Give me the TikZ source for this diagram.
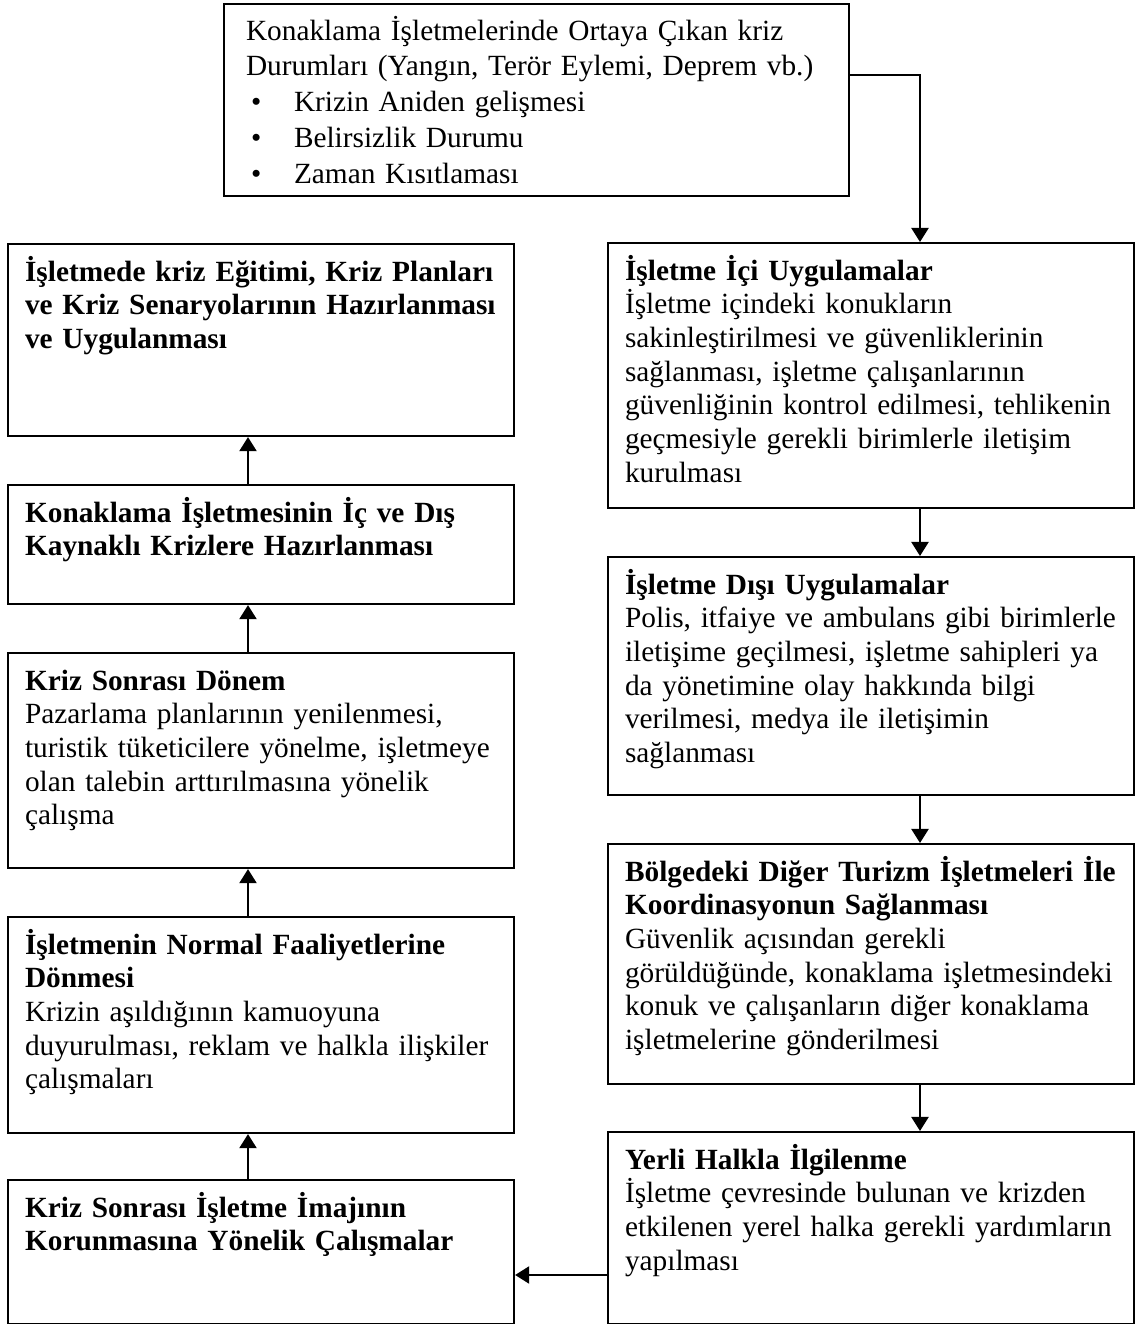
\documentclass[tikz,border=0pt]{standalone}
\RequirePackage{fontspec}
\setmainfont{Liberation Serif}
\RequirePackage{tikz}
\RequirePackage{tkz-euclide}
\usetikzlibrary{arrows.meta}

\begin{document}
\begin{tikzpicture}[
        kutu/.style={draw, line width=0.6pt, anchor=north west, align=left,
            inner xsep=0.17cm, inner ysep=0pt, text height=0.37cm,
            font={\fontsize{8.34pt}{9.58pt}\selectfont}},
        sol/.style={kutu, text width=4.72cm},
        sag/.style={kutu, text width=4.92cm},
        ok/.style={line width=0.6pt, -{Triangle[length=1.4mm, width=1.7mm]}}]
                \tkzInit[xmin=0,xmax=11.35,ymin=0,ymax=13.24]
                \tkzClip

                \node[kutu, text width=5.81cm, inner xsep=0.22cm, text height=0.36cm, text depth=1.56cm,
                    font={\fontsize{8.34pt}{10.19pt}\selectfont}] (A) at (2.23,13.21)
                    {Konaklama İşletmelerinde Ortaya Çıkan kriz\\
                     Durumları (Yangın, Terör Eylemi, Deprem vb.)\\
                     \makebox[0.48cm][l]{\hspace{0.05cm}\textbullet}Krizin Aniden gelişmesi\\
                     \makebox[0.48cm][l]{\hspace{0.05cm}\textbullet}Belirsizlik Durumu\\
                     \makebox[0.48cm][l]{\hspace{0.05cm}\textbullet}Zaman Kısıtlaması};

                \node[sag, text depth=2.28cm] (B) at (6.07,10.82)
                    {\textbf{İşletme İçi Uygulamalar}\\
                     İşletme içindeki konukların\\
                     sakinleştirilmesi ve güvenliklerinin\\
                     sağlanması, işletme çalışanlarının\\
                     güvenliğinin kontrol edilmesi, tehlikenin\\
                     geçmesiyle gerekli birimlerle iletişim\\
                     kurulması};
                \node[sag, text depth=2.01cm] (C) at (6.07,7.68)
                    {\textbf{İşletme Dışı Uygulamalar}\\
                     Polis, itfaiye ve ambulans gibi birimlerle\\
                     iletişime geçilmesi, işletme sahipleri ya\\
                     da yönetimine olay hakkında bilgi\\
                     verilmesi, medya ile iletişimin\\
                     sağlanması};
                \node[sag, text depth=2.03cm] (D) at (6.07,4.81)
                    {\textbf{Bölgedeki Diğer Turizm İşletmeleri İle}\\
                     \textbf{Koordinasyonun Sağlanması}\\
                     Güvenlik açısından gerekli\\
                     görüldüğünde, konaklama işletmesindeki\\
                     konuk ve çalışanların diğer konaklama\\
                     işletmelerine gönderilmesi};
                \node[sag, text depth=1.55cm] (E) at (6.07,1.93)
                    {\textbf{Yerli Halkla İlgilenme}\\
                     İşletme çevresinde bulunan ve krizden\\
                     etkilenen yerel halka gerekli yardımların\\
                     yapılması};

                \node[sol, text depth=1.07cm] (F) at (0.07,1.45)
                    {\textbf{Kriz Sonrası İşletme İmajının}\\
                     \textbf{Korunmasına Yönelik Çalışmalar}};
                \node[sol, text depth=1.79cm] (G) at (0.07,4.08)
                    {\textbf{İşletmenin Normal Faaliyetlerine}\\
                     \textbf{Dönmesi}\\
                     Krizin aşıldığının kamuoyuna\\
                     duyurulması, reklam ve halkla ilişkiler\\
                     çalışmaları};
                \node[sol, text depth=1.78cm] (H) at (0.07,6.72)
                    {\textbf{Kriz Sonrası Dönem}\\
                     Pazarlama planlarının yenilenmesi,\\
                     turistik tüketicilere yönelme, işletmeye\\
                     olan talebin arttırılmasına yönelik\\
                     çalışma};
                \node[sol, text depth=0.82cm] (I) at (0.07,8.40)
                    {\textbf{Konaklama İşletmesinin İç ve Dış}\\
                     \textbf{Kaynaklı Krizlere Hazırlanması}};
                \node[sol, text depth=1.55cm] (J) at (0.07,10.81)
                    {\textbf{İşletmede kriz Eğitimi, Kriz Planları}\\
                     \textbf{ve Kriz Senaryolarının Hazırlanması}\\
                     \textbf{ve Uygulanması}};

                \tkzDefPoint(9.20,12.49){k}
                \tkzDefPoint(2.48,0){s}
                \tkzDefPoint(0,0.49){y}

                \draw[ok] (A.east |- k) -- (k) -- (k |- B.north);
                \draw[ok] (k |- B.south) -- (k |- C.north);
                \draw[ok] (k |- C.south) -- (k |- D.north);
                \draw[ok] (k |- D.south) -- (k |- E.north);
                \draw[ok] (E.west |- y) -- (F.east |- y);
                \draw[ok] (s |- F.north) -- (s |- G.south);
                \draw[ok] (s |- G.north) -- (s |- H.south);
                \draw[ok] (s |- H.north) -- (s |- I.south);
                \draw[ok] (s |- I.north) -- (s |- J.south);
\end{tikzpicture}
\end{document}
